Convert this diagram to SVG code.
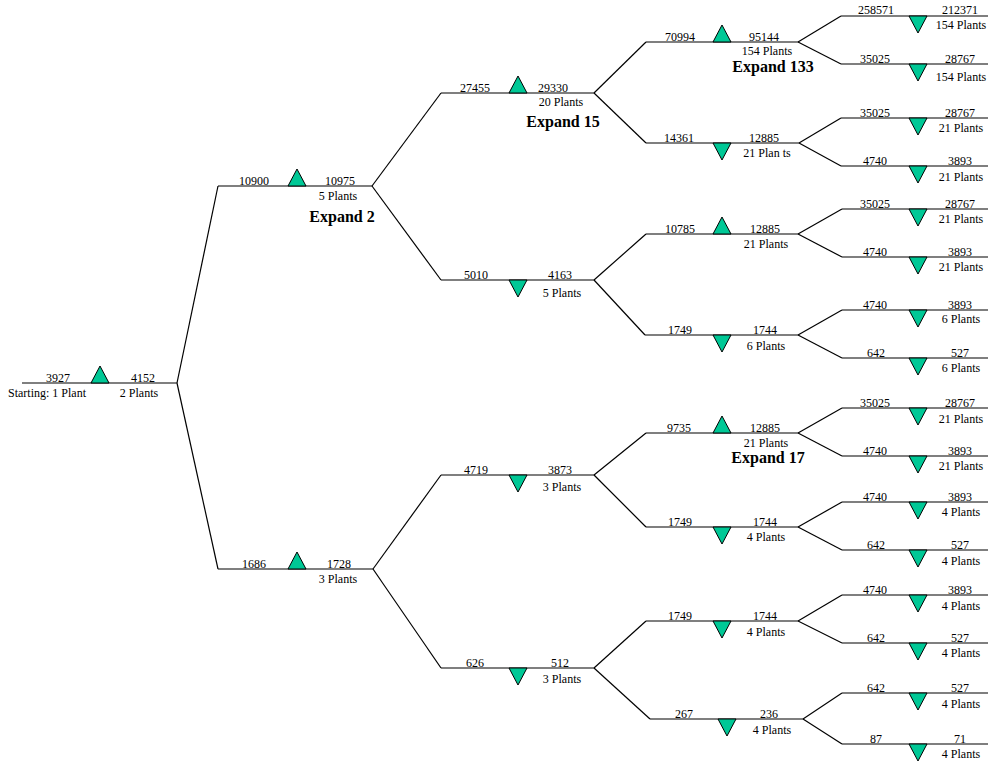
<svg xmlns="http://www.w3.org/2000/svg" width="988" height="761" viewBox="0 0 988 761">
<style>
line{stroke:#000;stroke-width:1.2}
.tri{fill:#00C896;stroke:#000;stroke-width:1}
text{font-family:"Liberation Serif","Times New Roman",serif;font-size:12px;fill:#000;text-anchor:middle}
.st{text-anchor:start}
.ex{font-size:16px;font-weight:bold}
</style>
<rect width="988" height="761" fill="#fff"/>
<g id="connectors">
<line x1="177" y1="383" x2="218" y2="186"/><line x1="177" y1="383" x2="218" y2="569"/>
<line x1="372" y1="186" x2="441" y2="93"/><line x1="372" y1="186" x2="441" y2="280"/>
<line x1="373" y1="569" x2="441" y2="475"/><line x1="373" y1="569" x2="441" y2="668"/>
<line x1="594" y1="93" x2="646" y2="42"/><line x1="594" y1="93" x2="646" y2="143"/>
<line x1="594" y1="280" x2="646" y2="234"/><line x1="594" y1="280" x2="645" y2="335"/>
<line x1="594" y1="475" x2="646" y2="433"/><line x1="594" y1="475" x2="646" y2="527"/>
<line x1="594" y1="668" x2="646" y2="621"/><line x1="594" y1="668" x2="650" y2="719"/>
<line x1="798" y1="42" x2="841" y2="16"/><line x1="798" y1="42" x2="841" y2="64"/>
<line x1="799" y1="143" x2="841" y2="118"/><line x1="799" y1="143" x2="841" y2="166"/>
<line x1="798" y1="234" x2="842" y2="209"/><line x1="798" y1="234" x2="842" y2="257"/>
<line x1="798" y1="335" x2="842" y2="310"/><line x1="798" y1="335" x2="842" y2="358"/>
<line x1="798" y1="433" x2="842" y2="408"/><line x1="798" y1="433" x2="842" y2="456"/>
<line x1="798" y1="527" x2="842" y2="502"/><line x1="798" y1="527" x2="842" y2="550"/>
<line x1="798" y1="621" x2="842" y2="595"/><line x1="798" y1="621" x2="842" y2="643"/>
<line x1="803" y1="719" x2="842" y2="693"/><line x1="803" y1="719" x2="842" y2="744"/>
</g>

<g id="root">
<line x1="22" y1="383" x2="177" y2="383"/>
<polygon class="tri" points="91,383 109,383 100,366"/>
<text x="58" y="382">3927</text><text x="143" y="382">4152</text>
<text class="st" x="8" y="397">Starting: 1 Plant</text><text x="139" y="397">2 Plants</text>
</g>

<g id="l1-top">
<line x1="218" y1="186" x2="372" y2="186"/>
<polygon class="tri" points="288,186 306,186 297,169"/>
<text x="254" y="185">10900</text><text x="340" y="185">10975</text>
<text x="338" y="200">5 Plants</text><text class="ex" x="342" y="222">Expand 2</text>
</g>
<g id="l1-bot">
<line x1="218" y1="569" x2="373" y2="569"/>
<polygon class="tri" points="288,569 306,569 297,552"/>
<text x="254" y="568">1686</text><text x="339" y="568">1728</text>
<text x="338" y="583">3 Plants</text>
</g>

<g id="l2-a">
<line x1="441" y1="93" x2="594" y2="93"/>
<polygon class="tri" points="509,93 527,93 518,76"/>
<text x="475" y="92">27455</text><text x="553" y="92">29330</text>
<text x="561" y="106">20 Plants</text><text class="ex" x="563" y="127">Expand 15</text>
</g>
<g id="l2-b">
<line x1="441" y1="280" x2="594" y2="280"/>
<polygon class="tri" points="509,280 527,280 518,297"/>
<text x="476" y="279">5010</text><text x="560" y="279">4163</text>
<text x="562" y="297">5 Plants</text>
</g>
<g id="l2-c">
<line x1="441" y1="475" x2="594" y2="475"/>
<polygon class="tri" points="509,475 527,475 518,492"/>
<text x="476" y="474">4719</text><text x="560" y="474">3873</text>
<text x="562" y="491">3 Plants</text>
</g>
<g id="l2-d">
<line x1="441" y1="668" x2="594" y2="668"/>
<polygon class="tri" points="509,668 527,668 518,685"/>
<text x="475" y="667">626</text><text x="560" y="667">512</text>
<text x="562" y="683">3 Plants</text>
</g>

<g id="l3-a">
<line x1="646" y1="42" x2="798" y2="42"/>
<polygon class="tri" points="713,42 731,42 722,25"/>
<text x="680" y="41">70994</text><text x="764" y="41">95144</text>
<text x="767" y="55">154 Plants</text><text class="ex" x="773" y="72">Expand 133</text>
</g>
<g id="l3-b">
<line x1="646" y1="143" x2="799" y2="143"/>
<polygon class="tri" points="713,143 731,143 722,160"/>
<text x="679" y="142">14361</text><text x="764" y="142">12885</text>
<text x="767" y="157">21 Plan ts</text>
</g>
<g id="l3-c">
<line x1="646" y1="234" x2="798" y2="234"/>
<polygon class="tri" points="713,234 731,234 722,217"/>
<text x="680" y="233">10785</text><text x="765" y="233">12885</text>
<text x="766" y="248">21 Plants</text>
</g>
<g id="l3-d">
<line x1="645" y1="335" x2="798" y2="335"/>
<polygon class="tri" points="713,335 731,335 722,352"/>
<text x="680" y="334">1749</text><text x="765" y="334">1744</text>
<text x="766" y="350">6 Plants</text>
</g>
<g id="l3-e">
<line x1="646" y1="433" x2="798" y2="433"/>
<polygon class="tri" points="713,433 731,433 722,416"/>
<text x="679" y="432">9735</text><text x="765" y="432">12885</text>
<text x="766" y="447">21 Plants</text><text class="ex" x="768" y="463">Expand 17</text>
</g>
<g id="l3-f">
<line x1="646" y1="527" x2="798" y2="527"/>
<polygon class="tri" points="713,527 731,527 722,544"/>
<text x="680" y="526">1749</text><text x="765" y="526">1744</text>
<text x="766" y="541">4 Plants</text>
</g>
<g id="l3-g">
<line x1="646" y1="621" x2="798" y2="621"/>
<polygon class="tri" points="713,621 731,621 722,638"/>
<text x="680" y="620">1749</text><text x="765" y="620">1744</text>
<text x="766" y="636">4 Plants</text>
</g>
<g id="l3-h">
<line x1="650" y1="719" x2="803" y2="719"/>
<polygon class="tri" points="718,719 736,719 727,736"/>
<text x="684" y="718">267</text><text x="769" y="718">236</text>
<text x="772" y="734">4 Plants</text>
</g>

<g id="leaf-a1"><line x1="841" y1="16" x2="988" y2="16"/><polygon class="tri" points="909,16 927,16 918,33"/>
<text x="876" y="14">258571</text><text x="960" y="14">212371</text><text x="961" y="29">154 Plants</text></g>
<g id="leaf-a2"><line x1="841" y1="64" x2="988" y2="64"/><polygon class="tri" points="909,64 927,64 918,81"/>
<text x="875" y="63">35025</text><text x="960" y="63">28767</text><text x="961" y="81">154 Plants</text></g>
<g id="leaf-b1"><line x1="841" y1="118" x2="988" y2="118"/><polygon class="tri" points="909,118 927,118 918,135"/>
<text x="875" y="117">35025</text><text x="960" y="117">28767</text><text x="961" y="132">21 Plants</text></g>
<g id="leaf-b2"><line x1="841" y1="166" x2="988" y2="166"/><polygon class="tri" points="909,166 927,166 918,183"/>
<text x="875" y="165">4740</text><text x="960" y="165">3893</text><text x="961" y="181">21 Plants</text></g>
<g id="leaf-c1"><line x1="842" y1="209" x2="988" y2="209"/><polygon class="tri" points="909,209 927,209 918,226"/>
<text x="875" y="208">35025</text><text x="960" y="208">28767</text><text x="961" y="223">21 Plants</text></g>
<g id="leaf-c2"><line x1="842" y1="257" x2="988" y2="257"/><polygon class="tri" points="909,257 927,257 918,274"/>
<text x="875" y="256">4740</text><text x="960" y="256">3893</text><text x="961" y="271">21 Plants</text></g>
<g id="leaf-d1"><line x1="842" y1="310" x2="988" y2="310"/><polygon class="tri" points="909,310 927,310 918,327"/>
<text x="875" y="309">4740</text><text x="960" y="309">3893</text><text x="961" y="323">6 Plants</text></g>
<g id="leaf-d2"><line x1="842" y1="358" x2="988" y2="358"/><polygon class="tri" points="909,358 927,358 918,375"/>
<text x="876" y="357">642</text><text x="960" y="357">527</text><text x="961" y="372">6 Plants</text></g>
<g id="leaf-e1"><line x1="842" y1="408" x2="988" y2="408"/><polygon class="tri" points="909,408 927,408 918,425"/>
<text x="875" y="407">35025</text><text x="960" y="407">28767</text><text x="961" y="423">21 Plants</text></g>
<g id="leaf-e2"><line x1="842" y1="456" x2="988" y2="456"/><polygon class="tri" points="909,456 927,456 918,473"/>
<text x="875" y="455">4740</text><text x="960" y="455">3893</text><text x="961" y="470">21 Plants</text></g>
<g id="leaf-f1"><line x1="842" y1="502" x2="988" y2="502"/><polygon class="tri" points="909,502 927,502 918,519"/>
<text x="875" y="501">4740</text><text x="960" y="501">3893</text><text x="961" y="516">4 Plants</text></g>
<g id="leaf-f2"><line x1="842" y1="550" x2="988" y2="550"/><polygon class="tri" points="909,550 927,550 918,567"/>
<text x="876" y="549">642</text><text x="960" y="549">527</text><text x="961" y="565">4 Plants</text></g>
<g id="leaf-g1"><line x1="842" y1="595" x2="988" y2="595"/><polygon class="tri" points="909,595 927,595 918,612"/>
<text x="875" y="594">4740</text><text x="960" y="594">3893</text><text x="961" y="610">4 Plants</text></g>
<g id="leaf-g2"><line x1="842" y1="643" x2="988" y2="643"/><polygon class="tri" points="909,643 927,643 918,660"/>
<text x="876" y="642">642</text><text x="960" y="642">527</text><text x="961" y="657">4 Plants</text></g>
<g id="leaf-h1"><line x1="842" y1="693" x2="988" y2="693"/><polygon class="tri" points="909,693 927,693 918,710"/>
<text x="876" y="692">642</text><text x="960" y="692">527</text><text x="961" y="708">4 Plants</text></g>
<g id="leaf-h2"><line x1="842" y1="744" x2="988" y2="744"/><polygon class="tri" points="909,744 927,744 918,761"/>
<text x="876" y="743">87</text><text x="960" y="743">71</text><text x="961" y="758">4 Plants</text></g>
</svg>
